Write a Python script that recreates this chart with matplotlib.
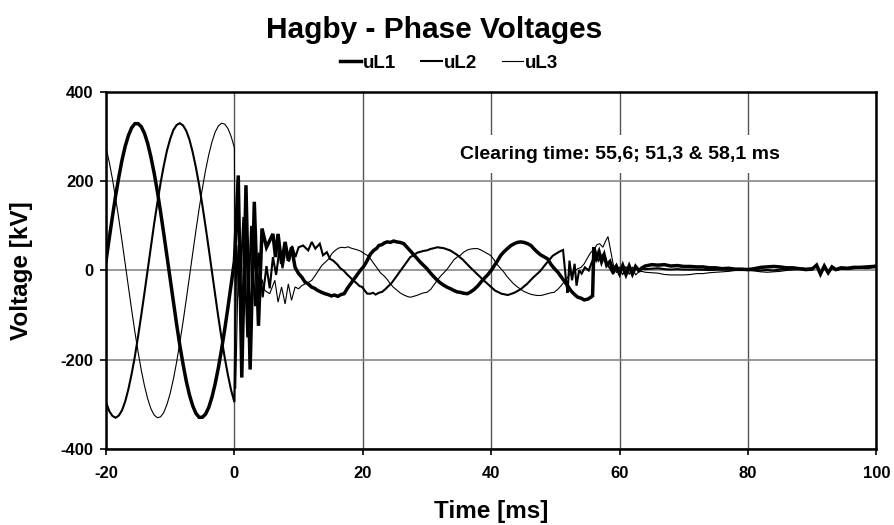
import matplotlib
matplotlib.use("Agg")
import matplotlib.pyplot as plt

plt.rcParams['font.family'] = ['Liberation Sans', 'DejaVu Sans']
plt.rcParams['font.weight'] = 'bold'
plt.rcParams['axes.unicode_minus'] = False

# ---------------- data ----------------
pre_t = [-20.0, -19.5, -19.0, -18.5, -18.0, -17.5, -17.0, -16.5, -16.0, -15.5,
         -15.0, -14.5, -14.0, -13.5, -13.0, -12.5, -12.0, -11.5, -11.0, -10.5,
         -10.0, -9.5, -9.0, -8.5, -8.0, -7.5, -7.0, -6.5, -6.0, -5.5,
         -5.0, -4.5, -4.0, -3.5, -3.0, -2.5, -2.0, -1.5, -1.0, -0.5, 0.0]

uL1_pre = [21, 72, 121, 168, 210, 248, 279, 303, 320, 329,
           329, 322, 307, 284, 254, 218, 177, 131, 82, 31,
           -21, -72, -121, -168, -210, -248, -279, -303, -320, -329,
           -329, -322, -307, -284, -254, -218, -177, -131, -82, -31, 21]
uL2_pre = [-295, -315, -326, -330, -325, -313, -293, -265, -231, -192,
           -147, -99, -49, 3, 54, 105, 152, 196, 235, 269,
           295, 315, 326, 330, 325, 313, 293, 265, 231, 192,
           147, 99, 49, -3, -54, -105, -152, -196, -235, -269, -295]
uL3_pre = [275, 243, 205, 161, 115, 65, 13, -38, -89, -138,
           -183, -224, -259, -288, -310, -324, -330, -328, -318, -300,
           -275, -243, -205, -161, -115, -65, -13, 38, 89, 138,
           183, 224, 259, 288, 310, 324, 330, 328, 318, 300, 275]

uL1_post_t = [0.6, 1.15, 1.8, 2.45, 3.1, 3.75, 4.3, 5.0, 6.0, 6.4, 6.8, 7.35, 7.9, 8.4, 8.9, 9.45,
              10.0, 10.5, 11.0, 11.5, 12.0, 12.5, 13.0, 13.6, 14.1, 14.6, 15.1, 15.6, 16.1, 16.6,
              17.1, 17.6, 18.1, 18.6, 19.1, 19.6, 20.1, 20.6, 21.2, 21.7, 22.2, 22.5, 23.0, 23.4,
              23.8, 24.3, 24.8, 25.3, 25.8, 26.4, 26.9, 27.4, 27.9, 28.5, 29.0, 29.5, 30.0, 30.5,
              31.0, 31.6, 32.1, 32.6, 33.2, 33.7, 34.2, 34.7, 35.2, 35.7, 36.3, 36.8, 37.3, 37.9,
              38.4, 38.9, 39.5, 40.0, 40.5, 41.0, 41.5, 42.0, 42.6, 43.1, 43.6, 44.1, 44.6, 45.1,
              45.7, 46.2, 46.7, 47.2, 47.7, 48.3, 48.8, 49.3, 49.8, 50.4, 50.9, 51.4, 51.9, 52.4,
              53.0, 53.5, 54.0, 54.5, 55.1, 55.5, 55.8, 56.0, 56.4, 56.8, 57.2, 57.6, 58.0, 58.5,
              59.0, 59.5, 60.0, 60.5, 61.0, 61.5, 62.0, 62.5, 63.0, 63.5, 64.0, 65.0, 66.0, 67.0,
              68.0, 69.0, 70.0, 71.0, 72.0, 73.0, 74.0, 75.0, 76.0, 77.0, 78.0, 79.0, 80.0, 81.0,
              82.0, 83.0, 84.0, 85.0, 86.0, 87.0, 88.0, 89.0, 90.0, 90.7, 91.3, 91.9, 92.5, 93.1,
              93.7, 94.5, 95.5, 96.5, 97.5, 98.5, 99.5, 100.0]
uL1_post_v = [213, -240, 191, -222, 154, -124, 94, 52, 82, 30, 82, 15, 64, 22, 52, 7,
              -7, -15, -26, -30, -37, -40, -45, -49, -52, -54, -57, -55, -58, -54,
              -52, -40, -30, -20, -10, 0, 8, 20, 37, 45, 50, 56, 58, 62,
              64, 63, 66, 64, 63, 60, 52, 44, 36, 26, 18, 11, 4, -5,
              -13, -22, -28, -33, -38, -41, -45, -48, -49, -51, -52, -48, -43, -35,
              -26, -18, -9, 0, 11, 22, 34, 42, 50, 56, 60, 63, 64, 63,
              60, 56, 48, 41, 35, 30, 26, 14, 5, -4, -14, -24, -34, -45,
              -54, -60, -62, -66, -64, -60, -57, 52, 28, 42, 20, 35, 12, 20,
              0, 10, -7, 11, -9, 10, -8, 9, 0, 6, 10, 13, 12, 13,
              10, 11, 9, 9, 8, 8, 6, 6, 4, 5, 3, 3, 2, 4,
              7, 8, 9, 8, 6, 6, 4, 2, 3, 12, -8, 10, -5, 8,
              2, 6, 5, 7, 7, 8, 9, 10]

uL2_post_t = [0.3, 0.8, 1.4, 2.0, 2.6, 3.2, 3.8, 4.4, 5.0, 5.5, 6.0, 6.5, 7.0, 7.5, 8.0, 8.5,
              9.0, 9.5, 10.0, 10.7, 11.5, 12.05, 12.6, 13.3, 13.8, 14.4, 14.9, 15.4, 16.0, 16.5,
              17.0, 17.5, 18.0, 18.5, 19.0, 19.5, 19.9, 20.3, 20.7, 21.2, 21.6, 22.0, 22.5, 23.0,
              23.5, 24.0, 24.5, 24.8, 25.3, 25.8, 26.3, 26.8, 27.4, 27.9, 28.5, 29.0, 29.5, 30.0,
              30.5, 31.1, 31.6, 32.6, 33.6, 34.6, 35.6, 36.6, 37.6, 38.6, 39.6, 40.6, 41.6, 42.6,
              43.6, 44.6, 45.6, 46.6, 47.6, 48.6, 49.6, 50.6, 51.2, 51.7, 51.9, 52.2, 52.6, 53.0,
              53.3, 53.7, 54.1, 54.6, 55.2, 55.7, 56.2, 56.7, 57.5, 58.0, 58.5, 59.0, 59.5, 60.0,
              60.5, 61.0, 61.5, 62.0, 62.5, 63.0, 63.5, 64.0, 65.0, 66.0, 67.0, 68.0, 69.0, 70.0,
              72.0, 74.0, 76.0, 78.0, 80.0, 81.0, 82.0, 83.0, 84.0, 85.0, 86.0, 87.0, 88.0, 89.0,
              90.0, 90.7, 91.3, 91.9, 92.5, 93.1, 93.7, 94.5, 95.5, 96.5, 97.5, 98.5, 99.5, 100.0]
uL2_post_v = [57, -60, 120, -150, 100, -80, 40, -60, 10, -40, 30, -10, 45, 5, 50, 20,
              55, 30, 52, 56, 45, 64, 49, 60, 34, 41, 26, 22, 14, 5,
              0, -8, -15, -22, -28, -35, -37, -45, -52, -52, -50, -54, -50, -48,
              -42, -35, -28, -22, -12, -2, 8, 18, 30, 34, 40, 42, 44, 45,
              48, 50, 52, 50, 45, 36, 24, 9, -5, -19, -32, -45, -52, -55,
              -50, -42, -30, -15, -2, 16, 33, 42, 46, -28, -50, 22, -22, 15,
              -34, 0, -7, 7, 0, 19, 37, 22, 37, 15, 5, -8, 8, -10,
              10, -8, 9, -9, 8, -2, 4, 3, 4, 5, 3, 2, 3, 2,
              2, 1, 2, 1, 1, 1, 0, 1, 0, 2, 3, 4, 5, 4,
              5, 11, -7, 9, -6, 7, 1, 4, 5, 6, 6, 7, 8, 8]

uL3_post_t = [0.2, 0.7, 1.3, 1.9, 2.5, 3.1, 3.7, 4.3, 4.75, 5.5, 6.3, 6.8, 7.35, 7.9, 8.4, 8.9,
              9.45, 10.0, 10.5, 11.0, 11.5, 12.05, 12.6, 13.1, 13.6, 14.2, 14.7, 15.2, 15.7, 16.2,
              16.7, 17.2, 17.7, 18.2, 18.7, 19.2, 19.7, 20.2, 20.7, 21.2, 21.7, 22.3, 22.8, 23.3,
              23.8, 24.3, 24.8, 25.3, 25.8, 26.4, 26.9, 27.4, 27.9, 28.4, 28.9, 29.5, 30.0, 30.6,
              31.1, 31.6, 32.1, 32.7, 33.2, 33.7, 34.2, 34.7, 35.2, 35.7, 36.3, 36.8, 37.3, 37.9,
              38.4, 38.9, 39.4, 39.9, 40.4, 40.9, 41.5, 42.0, 42.5, 43.0, 43.5, 44.1, 44.6, 45.1,
              45.6, 46.1, 46.7, 47.2, 47.8, 48.3, 48.8, 49.3, 49.8, 50.4, 50.9, 51.4, 51.9, 52.4,
              53.0, 53.5, 54.0, 54.5, 55.0, 55.5, 56.1, 56.5, 56.9, 57.4, 57.8, 58.2, 58.6, 59.0,
              59.5, 60.0, 60.5, 61.0, 61.5, 62.0, 62.5, 63.0, 63.5, 64.0, 65.0, 66.0, 67.0, 68.0,
              69.0, 70.0, 71.0, 72.0, 73.0, 74.0, 75.0, 76.0, 77.0, 78.0, 79.0, 80.0, 81.0, 82.0,
              83.0, 84.0, 85.0, 86.0, 87.0, 88.0, 89.0, 90.0, 90.7, 91.3, 91.9, 92.5, 93.1, 93.7,
              94.5, 95.5, 96.5, 97.5, 98.5, 99.5, 100.0]
uL3_post_v = [-265, 80, -150, 60, -120, 30, -90, -20, -45, -52, -22, -71, -37, -75, -30, -67,
              -37, -41, -34, -30, -27, -22, -11, 0, 11, 19, 26, 38, 45, 50,
              52, 51, 53, 50, 48, 46, 43, 38, 34, 26, 16, 4, -6, -12,
              -20, -30, -38, -44, -50, -55, -58, -60, -58, -56, -53, -50, -49, -42,
              -32, -22, -13, -4, 4, 14, 24, 30, 34, 41, 46, 48, 49, 49,
              46, 42, 38, 34, 25, 14, 4, -4, -14, -22, -30, -37, -42, -47,
              -50, -53, -55, -56, -56, -54, -52, -50, -49, -42, -34, -25, -15, -7,
              0, 4, 7, 15, 28, 40, 49, 58, 60, 52, 65, 76, 45, 15,
              -5, 8, -10, 9, -9, 8, -10, -3, -2, -4, -5, -6, -9, -10,
              -10, -10, -9, -7, -7, -5, -4, -3, -2, 0, 1, 0, -1, -3,
              -4, -3, -2, 0, 1, 2, 3, 4, 10, -9, 8, -7, 6, 0,
              3, 2, 4, 5, 4, 6, 6]

series_names = ['uL1', 'uL2', 'uL3']
x_ticks = [-20, 0, 20, 40, 60, 80, 100]
y_ticks = [-400, -200, 0, 200, 400]
title_text = 'Hagby - Phase Voltages'
note_text = 'Clearing time: 55,6; 51,3 & 58,1 ms'
note_pos = (60, 261)

# ---------------- figure ----------------
fig = plt.figure(figsize=(8.94, 5.25), dpi=100)
ax = fig.add_axes([0.1186, 0.1448, 0.8616, 0.6800])

widths = [2.5, 1.5, 0.8]
series = [(uL1_pre, uL1_post_t, uL1_post_v),
          (uL2_pre, uL2_post_t, uL2_post_v),
          (uL3_pre, uL3_post_t, uL3_post_v)]
handles = []
for name, lw, (pre, pt, pv) in zip(series_names, widths, series):
    h, = ax.plot(pre_t + pt, pre + pv, color='black', lw=lw, label=name,
                 solid_joinstyle='miter', zorder=3)
    handles.append(h)

ax.set_xlim(-20, 100)
ax.set_ylim(-400, 400)
ax.set_xticks(x_ticks)
ax.set_yticks(y_ticks)
ax.xaxis.grid(True, color='#555555', lw=1.0)
ax.yaxis.grid(True, color='#888888', lw=1.2)
ax.set_axisbelow(True)
for s in ax.spines.values():
    s.set_linewidth(1.8)
    s.set_color('black')
    s.set_zorder(4)
ax.tick_params(axis='both', labelsize=12, direction='out', length=4, width=1.2, pad=5)
ax.tick_params(axis='x', pad=8)
for lab in ax.get_xticklabels() + ax.get_yticklabels():
    lab.set_fontweight('bold')

ax.set_xlabel('Time [ms]', fontsize=17.5, fontweight='bold', labelpad=14)
ax.set_ylabel('Voltage [kV]', fontsize=17.5, fontweight='bold', labelpad=20)

fig.text(434 / 894, 1 - 30 / 525, title_text, ha='center', va='center',
         fontsize=21.5, fontweight='bold')
fig.legend(handles=handles, labels=series_names, loc='center',
           bbox_to_anchor=(449 / 894, 1 - 63 / 525), ncol=3, frameon=False,
           handlelength=1.15, handletextpad=0.1, columnspacing=1.3,
           prop={'weight': 'bold', 'size': 13.5})

ax.text(note_pos[0], note_pos[1], note_text, ha='center', va='center', fontsize=14,
        fontweight='bold', zorder=2,
        bbox=dict(boxstyle='square,pad=0.55', facecolor='white', edgecolor='none'))

fig.savefig('out.png', dpi=100)
